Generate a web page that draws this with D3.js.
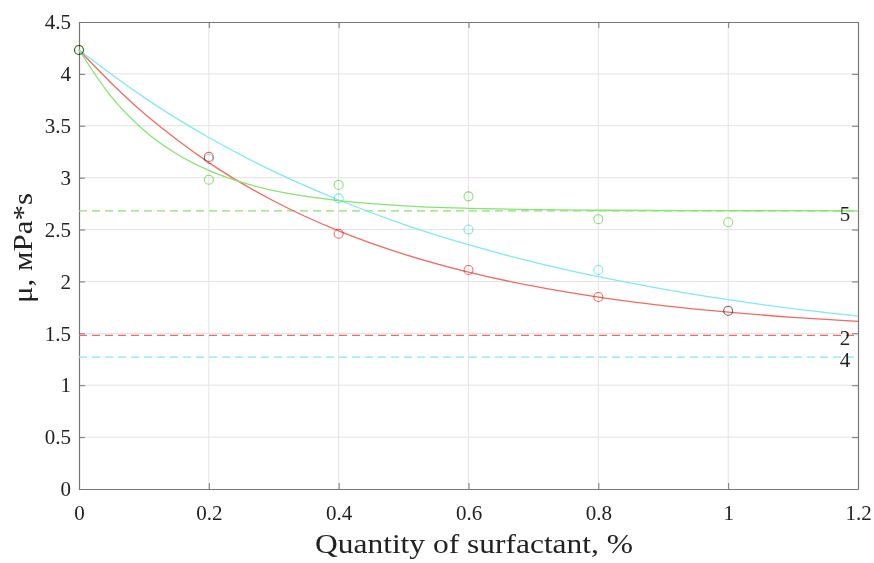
<!DOCTYPE html>
<html><head><meta charset="utf-8">
<script src="https://cdn.jsdelivr.net/npm/d3@7"></script>
<style>body{margin:0;background:#fff}svg{display:block}text{font-family:"Liberation Serif","Times New Roman",serif;fill:#222}</style>
</head><body><svg id="c" width="874" height="563"></svg>
<script>
const xTicks = [0, 0.2, 0.4, 0.6, 0.8, 1, 1.2];
const yTicks = [0, 0.5, 1, 1.5, 2, 2.5, 3, 3.5, 4, 4.5];
const pointX = [0, 0.2, 0.4, 0.6, 0.8, 1.0];
const pts2 = [4.23, 3.20, 2.46, 2.11, 1.85, 1.715];
const pts4 = [4.23, 3.18, 2.80, 2.50, 2.11, 1.72];
const pts5 = [4.23, 2.98, 2.93, 2.82, 2.60, 2.57];
const curveX2 = [0, 0.05, 0.1, 0.15, 0.2, 0.3, 0.4, 0.5, 0.6, 0.7, 0.8, 0.9, 1.0, 1.1, 1.2];
const curve2 = [4.23, 3.91, 3.62, 3.37, 3.145, 2.775, 2.487, 2.264, 2.09, 1.954, 1.849, 1.767, 1.704, 1.654, 1.615];
const curveX4 = [0, 0.1, 0.2, 0.3, 0.4, 0.5, 0.6, 0.7, 0.8, 0.9, 1.0, 1.1, 1.2];
const curve4 = [4.23, 3.774, 3.387, 3.06, 2.785, 2.551, 2.354, 2.187, 2.046, 1.926, 1.824, 1.738, 1.666];
const curveX5 = [0, 0.05, 0.1, 0.15, 0.2, 0.25, 0.3, 0.4, 0.5, 0.6, 0.7, 0.8, 1.0, 1.2];
const curve5 = [4.23, 3.778, 3.457, 3.23, 3.07, 2.956, 2.875, 2.778, 2.729, 2.705, 2.692, 2.686, 2.682, 2.68];
const limit2 = 1.48, limit4 = 1.27, limit5 = 2.68;
const seriesNames = ["2", "4", "5"];
const colors = ["#f26a64", "#7eeaf2", "#86e46e"];

const svg = d3.select("#c");
const L = 79, R = 858, T = 22, B = 489;
const x = d3.scaleLinear().domain([0, 1.2]).range([L, R]);
const y = d3.scaleLinear().domain([0, 4.5]).range([B, T]);

// grid
svg.append("g").selectAll("line").data(xTicks.slice(1, -1)).join("line")
  .attr("x1", d => x(d)).attr("x2", d => x(d)).attr("y1", T).attr("y2", B)
  .attr("stroke", "#e3e3e3").attr("stroke-width", 1);
svg.append("g").selectAll("line").data(yTicks.slice(1, -1)).join("line")
  .attr("y1", d => y(d)).attr("y2", d => y(d)).attr("x1", L).attr("x2", R)
  .attr("stroke", "#e3e3e3").attr("stroke-width", 1);

// axes
const ax = svg.append("g").attr("transform", `translate(0,${B})`)
  .call(d3.axisBottom(x).tickValues(xTicks).tickFormat(d3.format("")).tickSizeInner(-6).tickSizeOuter(0).tickPadding(16));
const ay = svg.append("g").attr("transform", `translate(${L},0)`)
  .call(d3.axisLeft(y).tickValues(yTicks).tickFormat(d3.format("")).tickSizeInner(-6).tickSizeOuter(0).tickPadding(8));
const axT = svg.append("g").attr("transform", `translate(0,${T})`)
  .call(d3.axisTop(x).tickValues(xTicks).tickFormat("").tickSizeInner(-6).tickSizeOuter(0));
const ayR = svg.append("g").attr("transform", `translate(${R},0)`)
  .call(d3.axisRight(y).tickValues(yTicks).tickFormat("").tickSizeInner(-6).tickSizeOuter(0));
[ax, ay, axT, ayR].forEach(g => {
  g.select(".domain").attr("stroke", "#777").attr("stroke-width", 1.2);
  g.selectAll(".tick line").attr("stroke", "#777");
  g.selectAll(".tick text").attr("font-size", 21).attr("fill", "#333")
    .attr("font-family", "Liberation Serif, serif");
});

// asymptote dashed lines
const limits = [limit2, limit4, limit5];
svg.append("g").selectAll("line").data(limits).join("line")
  .attr("x1", L).attr("x2", R).attr("y1", d => y(d)).attr("y2", d => y(d))
  .attr("stroke", (d, i) => colors[i]).attr("stroke-width", 1.3).attr("stroke-dasharray", "8,5");

// curves
const line = d3.line().x(d => x(d[0])).y(d => y(d[1])).curve(d3.curveMonotoneX);
const curves = [d3.zip(curveX2, curve2), d3.zip(curveX4, curve4), d3.zip(curveX5, curve5)];
svg.append("g").selectAll("path").data(curves).join("path")
  .attr("d", line).attr("fill", "none").attr("stroke", (d, i) => colors[i]).attr("stroke-width", 1.3);

// points
const pts = [pts2, pts4, pts5];
pts.forEach((arr, i) => {
  svg.append("g").selectAll("circle").data(d3.zip(pointX, arr)).join("circle")
    .attr("cx", d => x(d[0])).attr("cy", d => y(d[1])).attr("r", 4.5)
    .attr("fill", "none").attr("stroke", colors[i]).attr("stroke-width", 1.1)
    .style("mix-blend-mode", "multiply");
});

// series labels
svg.append("g").selectAll("text").data(seriesNames).join("text")
  .attr("x", 845).attr("text-anchor", "middle")
  .attr("y", (d, i) => [y(limit2) + 10, y(limit4) + 10, y(limit5) + 10][i])
  .attr("font-size", 21).text(d => d);

// axis titles
svg.append("text").attr("x", 315).attr("y", 553)
  .attr("font-size", 28).attr("textLength", 318).attr("lengthAdjust", "spacingAndGlyphs")
  .text("Quantity of surfactant, %");
svg.append("text").attr("transform", `translate(32,303) rotate(-90)`)
  .attr("font-size", 28).attr("textLength", 110).attr("lengthAdjust", "spacingAndGlyphs")
  .text("μ, мPa*s");
</script></body></html>
